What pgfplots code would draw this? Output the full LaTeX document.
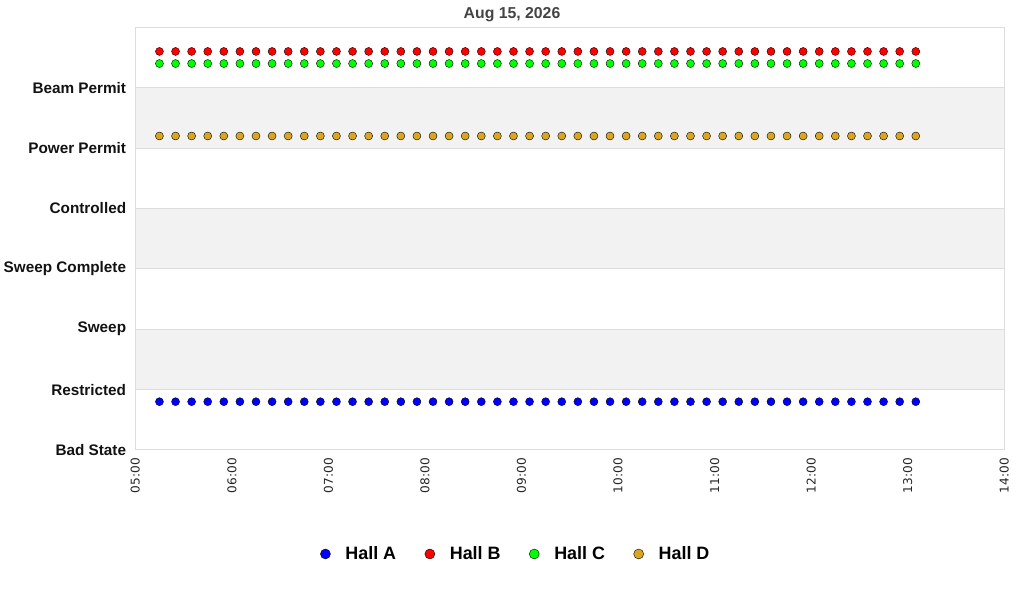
\documentclass[border=0pt]{standalone}
\usepackage{pgfplots}
\pgfplotsset{compat=1.18}
\usepackage{pgfplotstable}
\usepackage{fontspec}
\setmainfont{Liberation Sans}
\newfontfamily\tickfont{DejaVu Sans}

\definecolor{hallA}{RGB}{0,0,255}
\definecolor{hallB}{RGB}{255,0,0}
\definecolor{hallC}{RGB}{0,255,0}
\definecolor{hallD}{RGB}{218,165,32}
\definecolor{bandgray}{RGB}{242,242,242}
\definecolor{gridgray}{RGB}{221,221,221}
\definecolor{titlegray}{RGB}{68,68,68}

% time in hours, state level per hall
\pgfplotstableread{
x       A    B    C    D
5.2500  0.8  6.6  6.4  5.2
5.4167  0.8  6.6  6.4  5.2
5.5833  0.8  6.6  6.4  5.2
5.7500  0.8  6.6  6.4  5.2
5.9167  0.8  6.6  6.4  5.2
6.0833  0.8  6.6  6.4  5.2
6.2500  0.8  6.6  6.4  5.2
6.4167  0.8  6.6  6.4  5.2
6.5833  0.8  6.6  6.4  5.2
6.7500  0.8  6.6  6.4  5.2
6.9167  0.8  6.6  6.4  5.2
7.0833  0.8  6.6  6.4  5.2
7.2500  0.8  6.6  6.4  5.2
7.4167  0.8  6.6  6.4  5.2
7.5833  0.8  6.6  6.4  5.2
7.7500  0.8  6.6  6.4  5.2
7.9167  0.8  6.6  6.4  5.2
8.0833  0.8  6.6  6.4  5.2
8.2500  0.8  6.6  6.4  5.2
8.4167  0.8  6.6  6.4  5.2
8.5833  0.8  6.6  6.4  5.2
8.7500  0.8  6.6  6.4  5.2
8.9167  0.8  6.6  6.4  5.2
9.0833  0.8  6.6  6.4  5.2
9.2500  0.8  6.6  6.4  5.2
9.4167  0.8  6.6  6.4  5.2
9.5833  0.8  6.6  6.4  5.2
9.7500  0.8  6.6  6.4  5.2
9.9167  0.8  6.6  6.4  5.2
10.0833 0.8  6.6  6.4  5.2
10.2500 0.8  6.6  6.4  5.2
10.4167 0.8  6.6  6.4  5.2
10.5833 0.8  6.6  6.4  5.2
10.7500 0.8  6.6  6.4  5.2
10.9167 0.8  6.6  6.4  5.2
11.0833 0.8  6.6  6.4  5.2
11.2500 0.8  6.6  6.4  5.2
11.4167 0.8  6.6  6.4  5.2
11.5833 0.8  6.6  6.4  5.2
11.7500 0.8  6.6  6.4  5.2
11.9167 0.8  6.6  6.4  5.2
12.0833 0.8  6.6  6.4  5.2
12.2500 0.8  6.6  6.4  5.2
12.4167 0.8  6.6  6.4  5.2
12.5833 0.8  6.6  6.4  5.2
12.7500 0.8  6.6  6.4  5.2
12.9167 0.8  6.6  6.4  5.2
13.0833 0.8  6.6  6.4  5.2
}\halls

\begin{document}
\begin{tikzpicture}
\path (0bp,0bp) rectangle (1024bp,600bp);
\node[anchor=base, text=titlegray, font=\bfseries\fontsize{15.8bp}{18bp}\selectfont] at (512bp,581.7bp) {Aug 15, 2026};
\begin{axis}[
    at={(135.3bp,150bp)}, anchor=south west,
    scale only axis, width=869bp, height=422.7bp,
    xmin=5, xmax=14, ymin=0, ymax=7,
    set layers,
    axis line style={draw=gridgray, line width=1bp},
    tick style={draw=none},
    ymajorgrids, grid style={draw=gridgray, line width=1bp},
    ytick={0,...,6},
    yticklabels={Bad State, Restricted, Sweep, Sweep Complete, Controlled, Power Permit, Beam Permit},
    yticklabel style={font=\bfseries\fontsize{15.3bp}{18bp}\selectfont, inner sep=0pt, text=black!93},
    yticklabel shift=9bp,
    xtick={5,...,14},
    xticklabels={05:00,06:00,07:00,08:00,09:00,10:00,11:00,12:00,13:00,14:00},
    xticklabel style={font=\tickfont\fontsize{12.1bp}{14bp}\selectfont, rotate=90, anchor=east, inner sep=0pt, text=black!85},
    xticklabel shift=8bp,
    legend columns=-1,
    legend style={draw=none, fill=none, at={(0.438,-0.246)}, anchor=center,
      font=\bfseries\fontsize{17.9bp}{20bp}\selectfont,
      /tikz/every odd column/.append style={column sep=13bp},
      /tikz/every even column/.append style={column sep=26.7bp}},
    legend image code/.code={\draw[#1, mark size=5bp] plot coordinates {(0bp,0bp)};},
    every axis plot/.append style={only marks, mark=*, mark size=4bp, mark options={draw=black, line width=0.6bp}},
]
\begin{pgfonlayer}{axis background}
\fill[bandgray] (axis cs:5,1) rectangle (axis cs:14,2);
\fill[bandgray] (axis cs:5,3) rectangle (axis cs:14,4);
\fill[bandgray] (axis cs:5,5) rectangle (axis cs:14,6);
\end{pgfonlayer}
\addplot[mark options={fill=hallA}] table[x=x, y=A] {\halls};
\addplot[mark options={fill=hallB}] table[x=x, y=B] {\halls};
\addplot[mark options={fill=hallC}] table[x=x, y=C] {\halls};
\addplot[mark options={fill=hallD}] table[x=x, y=D] {\halls};
\legend{Hall A, Hall B, Hall C, Hall D}
\end{axis}
\end{tikzpicture}
\end{document}
